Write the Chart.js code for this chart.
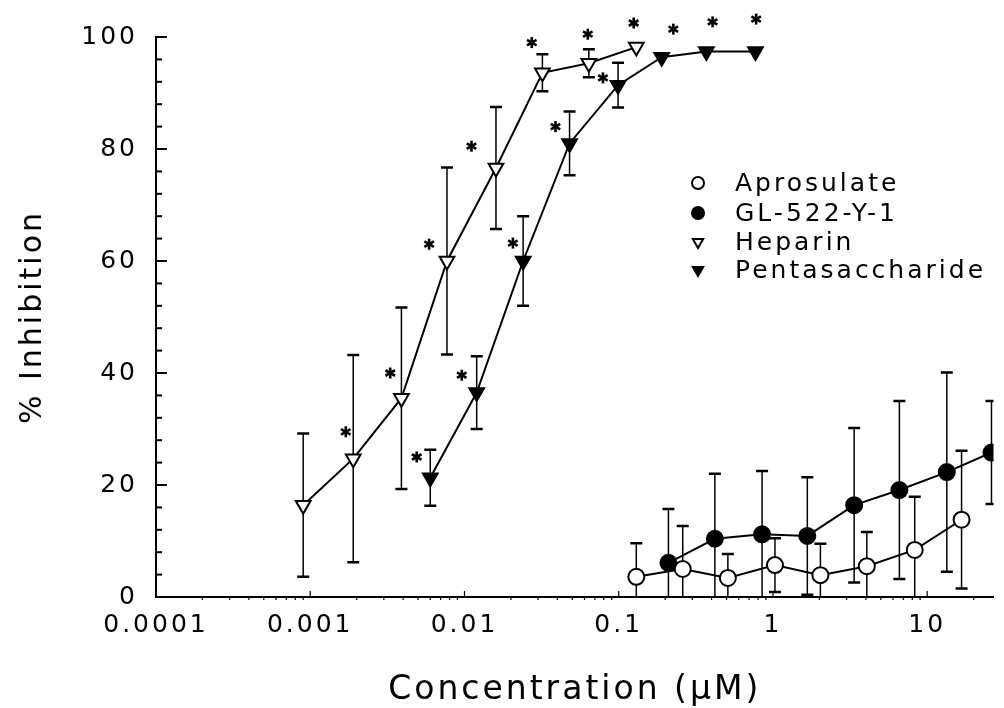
<!DOCTYPE html>
<html>
<head>
<meta charset="utf-8">
<script src="https://cdn.jsdelivr.net/npm/chart.js@4.4.0/dist/chart.umd.min.js"></script>
<style>
  html, body { margin: 0; padding: 0; background: #fff; overflow: hidden; }
  #wrap { width: 1004px; height: 708px; position: relative; }
</style>
</head>
<body>
<div id="wrap"><canvas id="grafico"></canvas></div>
<script>
const heparinConc = [0.0009, 0.0019, 0.0039, 0.0077, 0.016, 0.032, 0.064, 0.13];
const heparinInh  = [16.4, 24.7, 35.5, 60.0, 76.6, 93.6, 95.3, 98.2];
const heparinErr  = [12.8, 18.5, 16.2, 16.7, 10.9, 3.3, 2.5, 0];

const pentaConc = [0.006, 0.012, 0.024, 0.048, 0.099, 0.19, 0.37, 0.77];
const pentaInh  = [21.3, 36.5, 60.0, 81.0, 91.4, 96.4, 97.4, 97.4];
const pentaErr  = [5.0, 6.5, 8.0, 5.7, 4.0, 0, 0, 0];

const aprosulateConc = [0.13, 0.26, 0.51, 1.03, 2.03, 4.06, 8.3, 16.7];
const aprosulateInh  = [3.6, 5.0, 3.4, 5.7, 3.9, 5.5, 8.4, 13.8];
const aprosulateErr  = [6.0, 7.7, 4.3, 4.8, 5.6, 6.1, 9.5, 12.3];

const glConc = [0.21, 0.42, 0.85, 1.67, 3.36, 6.6, 13.4, 26.1];
const glInh  = [6.1, 10.4, 11.2, 10.9, 16.4, 19.1, 22.3, 25.8];
const glErr  = [9.6, 11.6, 11.3, 10.5, 13.8, 15.9, 17.8, 9.2];

// asteriscos de significancia (alguns ficam acima de 100)
const starConc = [0.0017, 0.0033, 0.0059, 0.0111, 0.0273, 0.063, 0.125,
                  0.0049, 0.0096, 0.0206, 0.0389, 0.079, 0.226, 0.406, 0.778];
const starInh  = [29.5, 40, 63, 80.5, 99, 100.5, 102.5,
                  25, 39.6, 63.2, 84, 92.7, 101.4, 102.7, 103.2];

const xTicks = [0.0001, 0.001, 0.01, 0.1, 1, 10];
const xTickLabels = ['0.0001', '0.001', '0.01', '0.1', '1', '10'];

const FONT = 'DejaVu Sans';
Chart.defaults.font.family = FONT;
Chart.defaults.color = '#000';

const pontos = (xs, ys) => xs.map((x, i) => ({x: x, y: ys[i]}));

const serie = (label, xs, ys, errs, style, fill) => ({
    label: label,
    data: pontos(xs, ys),
    errors: errs,
    showLine: true,
    borderColor: '#000',
    borderWidth: 2,
    tension: 0,
    pointStyle: style,
    pointRotation: style === 'triangle' ? 180 : 0,
    pointRadius: style === 'triangle' ? 8.5 : 8,
    pointBorderWidth: 2,
    pointBorderColor: '#000',
    pointBackgroundColor: fill,
    legendRadius: 6
});

// barras de erro (desvio) desenhadas antes das curvas
const errorBars = {
    id: 'errorBars',
    beforeDatasetsDraw(chart) {
        const ctx = chart.ctx;
        const area = chart.chartArea;
        const y = chart.scales.y;
        ctx.save();
        ctx.beginPath();
        ctx.rect(area.left, area.top - 2, area.right - area.left, area.bottom - area.top + 2);
        ctx.clip();
        ctx.strokeStyle = '#000';
        chart.data.datasets.forEach((ds, i) => {
            if (!ds.errors) return;
            const meta = chart.getDatasetMeta(i);
            meta.data.forEach((el, j) => {
                const e = ds.errors[j];
                if (!e) return;
                const v = ds.data[j].y;
                const top = y.getPixelForValue(v + e);
                const bot = y.getPixelForValue(v - e);
                ctx.lineWidth = 1.5;
                ctx.beginPath();
                ctx.moveTo(el.x, top);
                ctx.lineTo(el.x, bot);
                ctx.stroke();
                ctx.lineWidth = 2.5;
                ctx.beginPath();
                ctx.moveTo(el.x - 6, top);
                ctx.lineTo(el.x + 6, top);
                ctx.moveTo(el.x - 6, bot);
                ctx.lineTo(el.x + 6, bot);
                ctx.stroke();
            });
        });
        ctx.restore();
    }
};

// asteriscos: passam da area do grafico, entao vao num plugin
const asteriscos = {
    id: 'asteriscos',
    afterDatasetsDraw(chart) {
        const ctx = chart.ctx;
        const x = chart.scales.x, y = chart.scales.y;
        ctx.save();
        ctx.strokeStyle = '#000';
        ctx.lineWidth = 2.6;
        const r = 5.5;
        starConc.forEach((c, i) => {
            const px = x.getPixelForValue(c);
            const py = y.getPixelForValue(starInh[i]);
            for (let k = 0; k < 3; k++) {
                const a = Math.PI / 2 + k * Math.PI / 3;
                ctx.beginPath();
                ctx.moveTo(px + r * Math.cos(a), py + r * Math.sin(a));
                ctx.lineTo(px - r * Math.cos(a), py - r * Math.sin(a));
                ctx.stroke();
            }
        });
        ctx.restore();
    }
};

// marcas dos eixos voltadas para dentro + legenda
const axisMarks = {
    id: 'axisMarks',
    beforeDraw(chart) {
        chart.ctx.letterSpacing = '3px';
    },
    afterDraw(chart) {
        const ctx = chart.ctx;
        const area = chart.chartArea;
        const x = chart.scales.x, y = chart.scales.y;
        ctx.save();
        ctx.strokeStyle = '#000';
        ctx.lineWidth = 2;
        for (let v = 0; v <= 100; v += 4) {
            const py = y.getPixelForValue(v);
            const len = v % 20 === 0 ? 11 : 6;
            ctx.beginPath();
            ctx.moveTo(area.left, py);
            ctx.lineTo(area.left + len, py);
            ctx.stroke();
        }
        ctx.lineWidth = 1.2;
        xTicks.forEach(d => {
            const px = x.getPixelForValue(d);
            if (d > xTicks[0]) {
                ctx.beginPath();
                ctx.moveTo(px, area.bottom);
                ctx.lineTo(px, area.bottom - 6);
                ctx.stroke();
            }
            for (let m = 2; m <= 9; m++) {
                const mx = x.getPixelForValue(d * m);
                if (mx > area.right) break;
                ctx.beginPath();
                ctx.moveTo(mx, area.bottom);
                ctx.lineTo(mx, area.bottom + 3);
                ctx.stroke();
            }
        });

        // legenda
        const rows = [183, 213, 242, 270];
        ctx.font = '25px "' + FONT + '"';
        ctx.textBaseline = 'middle';
        chart.data.datasets.forEach((ds, k) => {
            const ly = rows[k];
            ctx.fillStyle = ds.pointBackgroundColor;
            ctx.strokeStyle = '#000';
            ctx.lineWidth = 2;
            Chart.helpers.drawPoint(ctx, {
                pointStyle: ds.pointStyle,
                rotation: ds.pointRotation,
                radius: ds.legendRadius,
                borderWidth: 2
            }, 698, ly);
            ctx.fillStyle = '#000';
            ctx.fillText(ds.label, 735, ly + 1);
        });
        ctx.restore();
    }
};

const chartIt = (id) => {
    const ctx = document.getElementById(id);
    return new Chart(ctx, {
        type: 'scatter',
        data: {
            datasets: [
                serie('Aprosulate', aprosulateConc, aprosulateInh, aprosulateErr, 'circle', '#fff'),
                serie('GL-522-Y-1', glConc, glInh, glErr, 'circle', '#000'),
                serie('Heparin', heparinConc, heparinInh, heparinErr, 'triangle', '#fff'),
                serie('Pentasaccharide', pentaConc, pentaInh, pentaErr, 'triangle', '#000')
            ]
        },
        options: {
            responsive: true,
            maintainAspectRatio: false,
            animation: false,
            devicePixelRatio: 1,
            layout: { padding: { top: 37, right: 0, left: 0, bottom: 0 } },
            plugins: {
                legend: { display: false },
                tooltip: { enabled: false }
            },
            scales: {
                x: {
                    type: 'logarithmic',
                    min: 0.0001,
                    max: 26.9,
                    afterBuildTicks: s => { s.ticks = xTicks.map(v => ({value: v})); },
                    afterFit: s => { s.height = 111; },
                    grid: { display: false },
                    border: { display: true, color: '#000', width: 2 },
                    ticks: {
                        autoSkip: false,
                        maxRotation: 0,
                        padding: 5,
                        font: { size: 25 },
                        callback: (v, i) => xTickLabels[i]
                    },
                    title: {
                        display: true,
                        text: 'Concentration (\u00b5M)',
                        font: { size: 33 },
                        padding: { top: 0, bottom: -2 }
                    }
                },
                y: {
                    min: 0,
                    max: 100,
                    afterFit: s => { s.width = 156; },
                    grid: { display: false },
                    border: { display: true, color: '#000', width: 2 },
                    ticks: {
                        stepSize: 20,
                        padding: 10,
                        font: { size: 25 }
                    },
                    title: {
                        display: true,
                        text: '% Inhibition',
                        font: { size: 30 },
                        padding: { top: 15, bottom: 0 }
                    }
                }
            }
        },
        plugins: [errorBars, asteriscos, axisMarks]
    });
};

chartIt('grafico');
</script>
</body>
</html>
